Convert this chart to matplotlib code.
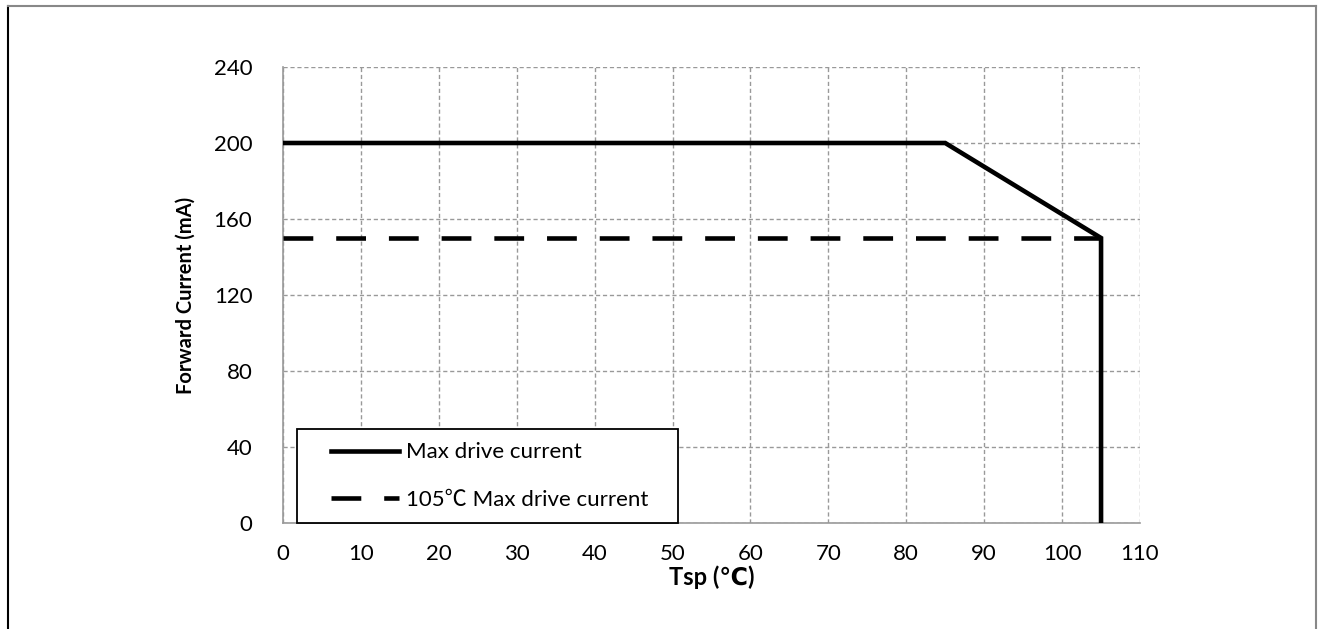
import matplotlib
matplotlib.use("Agg")
import matplotlib.pyplot as plt
from matplotlib.lines import Line2D
from matplotlib.legend_handler import HandlerLine2D

# Datos
tsp_max = [0, 85, 105, 105]
corriente_max = [200, 200, 150, 0]
tsp_105 = [0, 105]
corriente_105 = [150, 150]

xticks = list(range(0, 111, 10))
yticks = list(range(0, 241, 40))

plt.rcParams['font.family'] = ['Lato', 'DejaVu Sans']

fig = plt.figure(figsize=(13.2, 6.29), dpi=100)
ax = fig.add_axes([283/1320, 1 - 523/629, 857/1320, 456/629])

ax.plot(tsp_max, corriente_max, color='black', lw=3.3, solid_joinstyle='miter',
        label='Max drive current', zorder=3)
ax.plot(tsp_105, corriente_105, color='black', lw=3.3, dashes=(6.5, 5),
        label='105℃ Max drive current', zorder=3)

ax.set_xlim(0, 110)
ax.set_ylim(0, 240)
ax.set_xticks(xticks)
ax.set_yticks(yticks)
ax.tick_params(length=0, labelsize=16)
ax.tick_params(axis='x', pad=15)
ax.tick_params(axis='y', pad=22)

ax.grid(True, color='#999999', ls=(0, (3, 2)), lw=1)
ax.spines['top'].set_visible(False)
ax.spines['right'].set_visible(False)
ax.spines['left'].set_color('#999999')
ax.spines['bottom'].set_color('#999999')
ax.spines['left'].set_linewidth(1.2)
ax.spines['bottom'].set_linewidth(1.2)

ax.set_xlabel('Tsp (℃)', fontsize=17, fontweight='bold', labelpad=1)
ax.set_ylabel('Forward Current (mA)', fontsize=14.5, fontweight='bold', labelpad=13)

fs = 16
leg = ax.legend(loc='lower left', bbox_to_anchor=(14/857, 0, 381/857, 0.2),
                mode='expand', borderaxespad=0, fancybox=False,
                edgecolor='black', framealpha=1,
                prop={'family': ['Lato', 'Noto Sans CJK JP'], 'size': fs},
                handlelength=4.0, handletextpad=0.3, labelspacing=1.23,
                borderpad=0.6,
                handler_map={Line2D: HandlerLine2D(xpad=0.95)})
leg.get_frame().set_linewidth(1.3)

# Marco exterior
fig.add_artist(Line2D([8/1320, 8/1320], [0, 1 - 6/629], transform=fig.transFigure,
                      color='black', lw=1.5))
fig.add_artist(Line2D([8/1320, 1316/1320], [1 - 6/629, 1 - 6/629],
                      transform=fig.transFigure, color='#888888', lw=1.5))
fig.add_artist(Line2D([1316/1320, 1316/1320], [0, 1 - 6/629],
                      transform=fig.transFigure, color='#888888', lw=1.5))

fig.savefig('out.png', dpi=100)
